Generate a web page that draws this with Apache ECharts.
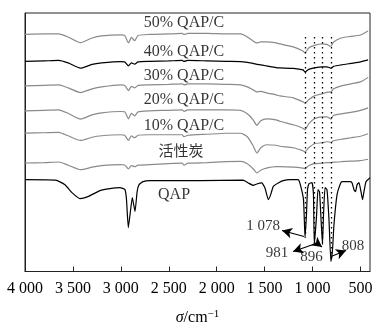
<!DOCTYPE html>
<html>
<head>
<meta charset="utf-8">
<script src="https://cdn.jsdelivr.net/npm/echarts@6/dist/echarts.min.js"></script>
<style>html,body{margin:0;padding:0;background:#fff}#c{width:381px;height:331px}</style>
</head>
<body>
<div id="c"></div>
<script>
// Wavenumber grid (cm^-1) shared by the composite / carbon spectra
const wavenumbers = [4000,3800,3650,3550,3420,3300,3200,3000,2960,2920,2890,2855,2820,2700,2500,2360,2340,2300,2100,1900,1750,1680,1620,1580,1540,1480,1380,1340,1200,1100,1078,1040,980,900,850,808,780,700,600,500,420];
// Offset transmittance (a.u.)
const qapc50 = [237.5,238,238,235,229.3,234,236,237,236.5,229,234.5,231.3,236.5,237.5,238,238.5,237.5,238.5,238.5,238,238,235,231,229,230,230,229,228,225,221,219,224,226.5,228,227.5,225.5,230,234,235.5,237,241];
const qapc40 = [210.5,211,211.5,209,203.7,207.5,209,210.3,210,206,209,207.7,210,210.5,211,211.5,210.5,211.5,211,210.5,210.3,209.5,208.5,207.5,207,206,204.3,204,203.5,202,200,202.5,204,205,205,203.7,205.5,207,208.5,210,212];
const qapc30 = [186,186.5,187,184,179.3,183,185,187,186.5,181.3,185.5,184,186.5,187,187.5,188,187,188,188,187.5,187,185,182,180,180.5,179,177,176,174,170,168.7,172,176,178,179.5,180,183,186,188,190,194.5];
const qapc20 = [161,161.5,162,158.5,152.7,157,159,160.3,160,153,158.5,156,160,161,161.5,162,160.5,162,162,162,161.5,158,152,146.5,151,153,152,150.5,147,143.5,142,148,153,155,155,152.7,156.5,158,159.5,161.5,164];
const qapc10 = [138.7,139,139.3,136,131.3,134.5,136,137,136.5,131.3,136,134,136.5,137,137,137,135,136.5,137.5,138.5,138.5,135,126,118.7,124,127,126.5,125.5,124,121,120,124,128,129,130,129.5,131,132.5,134,135.5,138];
const carbon = [108.7,109,109.7,106.5,102,104.5,106,107,106.7,102.7,106,105,106.5,107,108,108.5,106.5,108.5,109,110,110.3,108,103,98.7,101.5,103.5,105,105,104.5,103.5,103,106,108,108.5,109,109,109.5,110,110.5,111,112.5];

// QAP spectrum
const qapWavenumbers = [4000,3680,3583,3510,3426,3343,3217,3113,3009,2957,2941,2922,2904,2880,2852,2830,2810,2769,2696,2174,1725,1670,1618,1582,1530,1496,1461,1436,1409,1357,1305,1235,1151,1130,1094,1078,1063,1052,1036,1005,990,981,957,943,927,916,896,885,869,849,828,808,791,776,744,713,692,609,588,567,551,535,515,494,478,463,442,410,400];
const qapValues = [92,91.5,87,79,73,75,81,83,84,82,72,44,57,74,60,80,87,90,91,91,91.5,88.7,86.3,87.7,88.7,83.7,72,77,85.3,88.7,91,92,92,88,72,34,57,82,88,89,77,27,57,82,80,62,27,57,84,82,52,10,22,47,77,87,90,90,89,82,80,87,89,80,72,80,90,93,94];

// Series names and label anchors
const seriesNames = ['50% QAP/C','40% QAP/C','30% QAP/C','20% QAP/C','10% QAP/C','活性炭','QAP'];
const nameLabelX = [2341,2341,2341,2341,2341,2372,2445];
const nameLabelY = [249,220.5,196.5,172,146,121.5,77];

// Marked peaks (dotted guides)
const peakWavenumbers = [1078,981,896,808];
const guideTop = 235;
const guideBottom = [34,27,27,10];

// Peak annotations
const annotationText = ['1 078','981','896','808'];
const annotationX = [1516,1370,1010,577];
const annotationY = [46,18,14,25];
const arrowFrom = [[1089,35],[963,28],[963,29],[807,15]];
const arrowTo = [[1318,41],[1203,20],[901,24.5],[650,21]];

// Axis ticks
const xTickValues = [4000,3500,3000,2500,2000,1500,1000,500];
const xTickLabels = ['4 000','3 500','3 000','2 500','2 000','1 500','1 000','500'];

const serif = '"Times New Roman","Liberation Serif",serif';
const gray = '#8a8a8a';
const zip = (xs, ys) => xs.map((x, i) => [x, ys[i]]);

const specs = [
  {data: qapc50, color: gray},
  {data: qapc40, color: '#000'},
  {data: qapc30, color: gray},
  {data: qapc20, color: gray},
  {data: qapc10, color: gray},
  {data: carbon, color: gray}
];

const series = specs.map((s, i) => ({
  type: 'line', name: seriesNames[i], data: zip(wavenumbers, s.data),
  showSymbol: false, symbol: 'none', smooth: 0.2,
  lineStyle: {color: s.color, width: 1.2}, silent: true, z: 3
}));

series.push({
  type: 'line', name: 'QAP', data: zip(qapWavenumbers, qapValues),
  showSymbol: false, symbol: 'none', smooth: 0.15,
  lineStyle: {color: '#000', width: 1.2}, silent: true, z: 3,
  markLine: {
    silent: true, symbol: ['none','none'],
    lineStyle: {color: '#000', type: [1.5, 3.5], width: 1.3},
    label: {show: false},
    data: peakWavenumbers.map((w, i) => [{coord: [w, guideTop]}, {coord: [w, guideBottom[i]]}])
  }
});

// arrows
series.push({
  type: 'line', data: [], silent: true,
  markLine: {
    silent: true, symbol: ['none','arrow'], symbolSize: [8, 10],
    lineStyle: {color: '#000', type: 'solid', width: 1.1},
    label: {show: false},
    data: arrowFrom.map((f, i) => [{coord: f}, {coord: arrowTo[i]}])
  }
});

// text labels
series.push({
  type: 'scatter', symbolSize: 1, itemStyle: {color: 'rgba(0,0,0,0)'}, silent: true, z: 5,
  data: seriesNames.map((n, i) => ({value: [nameLabelX[i], nameLabelY[i]], name: n})),
  label: {
    show: true, position: 'inside', color: '#000',
    fontFamily: serif, fontSize: 16,
    formatter: p => p.name === '活性炭' ? '{cn|' + p.name + '}' : p.name,
    rich: {cn: {fontFamily: '"Noto Sans CJK SC"', fontSize: 15, color: '#000'}}
  }
});
series.push({
  type: 'scatter', symbolSize: 1, itemStyle: {color: 'rgba(0,0,0,0)'}, silent: true, z: 5,
  data: annotationText.map((t, i) => ({value: [annotationX[i], annotationY[i]], name: t})),
  label: {show: true, position: 'inside', color: '#000', fontFamily: serif, fontSize: 15, formatter: p => p.name}
});

const chart = echarts.init(document.getElementById('c'), null, {renderer: 'canvas'});
chart.setOption({
  animation: false,
  backgroundColor: '#fff',
  grid: {left: 25, right: 11, top: 13, bottom: 59, show: true, borderColor: '#222', borderWidth: 1, backgroundColor: 'transparent'},
  xAxis: {
    type: 'value', inverse: true, min: 400, max: 4000,
    splitLine: {show: false},
    axisLine: {show: true, lineStyle: {color: '#222', width: 1}},
    axisTick: {show: true, inside: true, length: 5, customValues: xTickValues, lineStyle: {color: '#222'}},
    axisLabel: {
      show: true, customValues: xTickValues, margin: 9, color: '#000',
      fontFamily: serif, fontSize: 16,
      formatter: v => xTickLabels[xTickValues.indexOf(v)]
    },
    name: '{i|σ}/cm{s|−1}', nameLocation: 'middle', nameGap: 37,
    nameTextStyle: {
      color: '#000', fontFamily: serif, fontSize: 16,
      rich: {
        i: {fontStyle: 'italic', fontFamily: serif, fontSize: 16, color: '#000'},
        s: {fontFamily: serif, fontSize: 11, color: '#000', verticalAlign: 'top', padding: [0, 0, 8, 0]}
      }
    }
  },
  yAxis: {
    type: 'value', min: 0, max: 259,
    axisLine: {show: true, lineStyle: {color: '#222'}},
    axisTick: {show: false}, axisLabel: {show: false}, splitLine: {show: false}
  },
  series
});
</script>
</body>
</html>
